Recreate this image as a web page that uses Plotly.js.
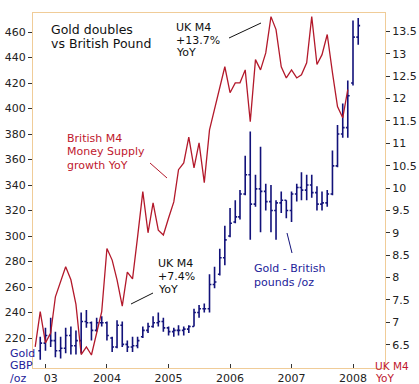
<!DOCTYPE html>
<html>
<head>
<meta charset="utf-8">
<script src="https://cdn.plot.ly/plotly-3.0.1.min.js"></script>
<style>
  html, body { margin: 0; padding: 0; background: #ffffff; }
  #chart { width: 419px; height: 384px; }
</style>
</head>
<body>
<div id="chart"></div>
<script>
// ---- Gold in British pounds per ounce, monthly OHLC, Dec 2002 .. Feb 2008 ----
const goldStart = [2002, 12];   // first month of the gold series
const goldOpen = [
  210,
  216,222,218,210,212,222,214,218,233,232,226,232,
  232,220,213,230,215,213,214,221,226,229,232,233,
  228,225,226,226,227,229,240,243,243,262,270,283,
  300,311,315,333,348,325,337,335,327,320,326,328,
  320,333,338,336,340,334,325,326,333,355,380,385,
  420,456
];
const goldHigh = [
  221,
  228,236,225,221,228,229,226,240,242,233,236,237,
  233,221,234,233,218,221,221,229,232,237,240,236,
  229,228,230,229,230,243,246,247,270,276,290,308,
  322,328,336,363,382,348,370,341,340,328,335,328,
  335,341,350,348,348,339,335,336,367,387,404,422,
  469,471
];
const goldLow = [
  203,
  210,213,205,204,208,207,207,208,228,218,225,229,
  218,209,212,213,209,209,212,220,224,228,229,225,
  222,221,222,222,224,229,236,240,240,259,269,277,
  299,310,313,332,297,323,303,320,303,297,318,314,
  311,327,328,328,330,320,320,323,332,354,377,377,
  418,450
];
const goldClose = [
  216,
  222,218,210,212,222,214,218,233,232,226,232,232,
  222,213,230,215,213,214,218,226,229,232,233,228,
  225,226,226,227,229,240,243,243,262,264,283,297,
  310,315,333,348,325,337,335,327,320,326,328,320,
  333,338,336,340,334,325,326,333,355,380,385,410,
  456,465
];

// ---- UK M4 money supply growth, % YoY, monthly Nov 2002 .. Dec 2007 ----
const m4Start = [2002, 11];
const m4Growth = [
  6.45, 7.24,
  6.54, 6.76, 7.57, 7.91, 8.24, 7.95, 7.40, 6.28, 6.45, 6.27, 6.76, 7.24,
  8.65, 8.39, 7.95, 7.36, 8.12, 7.97, 8.91, 9.92, 9.00, 9.67, 9.06, 8.95,
  9.33, 9.69, 10.41, 10.56, 11.14, 10.45, 11.01, 10.12, 11.30, 11.75, 12.24, 12.71,
  12.13, 12.35, 12.35, 12.64, 11.48, 12.87, 12.64, 13.02, 13.83, 13.54, 12.71, 12.46,
  12.64, 12.46, 12.53, 12.80, 13.83, 12.76, 12.98, 13.43, 12.58, 11.82, 11.57, 12.20
];

// ---- axis ticks ----
const yearTickVals = ['2003-01-01','2004-01-01','2005-01-01','2006-01-01','2007-01-01','2008-01-01'];
const yearTickText = ['\u00a0\u00a0\u00a003','2004','2005','2006','2007','2008'];
const goldTicks = [220,240,260,280,300,320,340,360,380,400,420,440,460];
const m4Ticks = [6.5,7,7.5,8,8.5,9,9.5,10,10.5,11,11.5,12,12.5,13,13.5];

// ---- text labels ----
const titleLines = ['Gold doubles', 'vs British Pound'];
const peakLines = ['UK M4', '+13.7%', 'YoY'];
const m4Lines = ['British M4', 'Money Supply', 'growth YoY'];
const lowLines = ['UK M4', '+7.4%', 'YoY'];
const goldLines = ['Gold - British', 'pounds /oz'];
const leftUnitLines = ['Gold', 'GBP', '/oz'];
const rightUnitLines = ['UK M4', 'YoY'];

function monthList(start, n) {
  const out = [];
  let y = start[0], m = start[1];
  for (let i = 0; i < n; i++) {
    out.push(y + '-' + String(m).padStart(2, '0') + '-01');
    m++; if (m > 12) { m = 1; y++; }
  }
  return out;
}
const goldDates = monthList(goldStart, goldClose.length);
const m4Dates = monthList(m4Start, m4Growth.length);

const W = 419, H = 384;
const M = { l: 33, r: 34, t: 13, b: 16 };
const PW = W - M.l - M.r, PH = H - M.t - M.b;
const px = x => (x - M.l) / PW;
const py = y => (H - M.b - y) / PH;

const RED = '#b3192b';
const REDTXT = '#c0182e';
const NAVY = '#12127a';
const NAVYTXT = '#23239a';
const TAN = '#f0cc98';
const FONT = 'DejaVu Sans, Verdana, sans-serif';

const traces = [
  {
    type: 'ohlc',
    x: goldDates,
    open: goldOpen, high: goldHigh, low: goldLow, close: goldClose,
    increasing: { line: { color: NAVY, width: 1.6 } },
    decreasing: { line: { color: NAVY, width: 1.6 } },
    tickwidth: 0.4,
    hoverinfo: 'skip',
    showlegend: false,
    xaxis: 'x', yaxis: 'y'
  },
  {
    type: 'scatter', mode: 'lines',
    x: m4Dates, y: m4Growth,
    line: { color: RED, width: 1.3 },
    hoverinfo: 'skip',
    showlegend: false,
    xaxis: 'x', yaxis: 'y2'
  }
];

// one annotation per line so the line pitch can follow the reference
function block(lines, x, yFirst, pitch, color, size) {
  return lines.map((t, i) => ({
    xref: 'paper', yref: 'paper', x: px(x), y: py(yFirst + i * pitch),
    xanchor: 'left', yanchor: 'middle', align: 'left',
    text: t, showarrow: false,
    font: { family: FONT, size: size, color: color },
    borderpad: 0
  }));
}
function pointer(x0, y0, x1, y1, color) {
  return {
    type: 'line', xref: 'paper', yref: 'paper',
    x0: px(x0), y0: py(y0), x1: px(x1), y1: py(y1),
    line: { color: color, width: 1 }
  };
}

const layout = {
  width: W, height: H,
  margin: M,
  paper_bgcolor: '#ffffff',
  plot_bgcolor: '#ffffff',
  showlegend: false,
  font: { family: FONT, size: 11, color: '#222222' },
  xaxis: {
    type: 'date',
    range: ['2002-10-19', '2008-07-09'],
    tickvals: yearTickVals,
    ticktext: yearTickText,
    ticks: 'inside', ticklen: 4, tickcolor: '#333333', tickwidth: 1,
    showgrid: false, zeroline: false,
    showline: true, linecolor: TAN, linewidth: 1, mirror: true,
    rangeslider: { visible: false },
    tickfont: { family: FONT, size: 11, color: '#222222' },
    fixedrange: true
  },
  yaxis: {
    range: [196.5, 474.9],
    tickvals: goldTicks,
    ticks: 'outside', ticklen: 4, tickcolor: '#333333', tickwidth: 1,
    showgrid: false, zeroline: false,
    showline: true, linecolor: TAN, linewidth: 1,
    tickfont: { family: FONT, size: 11, color: '#222222' },
    fixedrange: true
  },
  yaxis2: {
    overlaying: 'y', side: 'right',
    range: [5.979, 13.911],
    tickvals: m4Ticks,
    ticks: 'outside', ticklen: 4, tickcolor: '#333333', tickwidth: 1,
    showgrid: false, zeroline: false,
    showline: true, linecolor: TAN, linewidth: 1,
    tickfont: { family: FONT, size: 11, color: '#222222' },
    fixedrange: true
  },
  annotations: [].concat(
    block(titleLines, 50, 29, 14, '#111111', 12.5),
    block(peakLines, 175, 27.5, 12.5, '#111111', 11),
    block(m4Lines, 66, 138, 13.5, REDTXT, 11),
    block(lowLines, 157, 263, 13.3, '#111111', 11),
    block(goldLines, 253, 268.5, 13.5, NAVYTXT, 11),
    block(leftUnitLines, 9, 353, 12.5, NAVYTXT, 11),
    block(rightUnitLines, 374, 365.5, 12.5, REDTXT, 10.5)
  ),
  shapes: [
    pointer(229, 38, 261, 23, '#111111'),
    pointer(150, 163, 167, 178, RED),
    pointer(131, 304, 153, 293, '#111111'),
    pointer(287, 233, 292, 253, NAVY)
  ]
};

Plotly.newPlot('chart', traces, layout, { displayModeBar: false, staticPlot: true });
</script>
</body>
</html>
